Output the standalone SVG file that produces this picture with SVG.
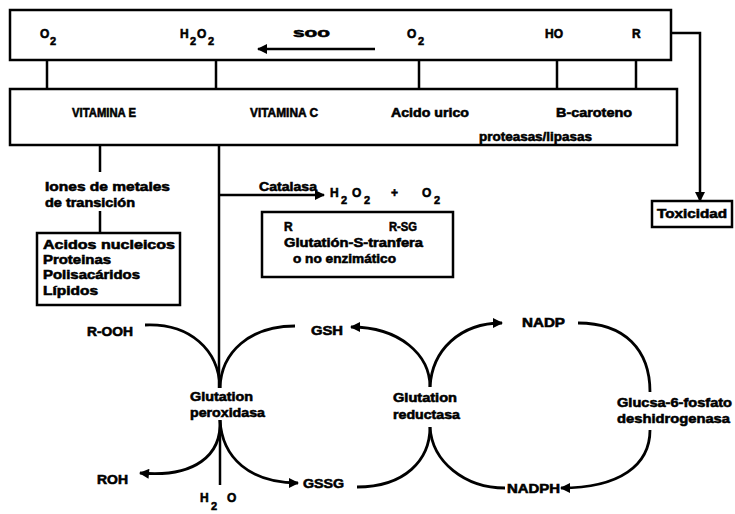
<svg xmlns="http://www.w3.org/2000/svg" width="735" height="514" viewBox="0 0 735 514">
<defs>
<marker id="ah" viewBox="0 0 10 10" refX="9" refY="5" markerWidth="12" markerHeight="10" markerUnits="userSpaceOnUse" orient="auto">
<path d="M0,0 L10,5 L0,10 z" fill="#000"/>
</marker>
</defs>
<style>
text{font-family:"Liberation Sans",Arial,sans-serif;font-weight:bold;font-size:12px;fill:#000;stroke:#000;stroke-width:0.55}
.sub{font-size:11px}
.box{fill:none;stroke:#000;stroke-width:2.5}
.ln{fill:none;stroke:#000;stroke-width:2.5}
.cv{fill:none;stroke:#000;stroke-width:2.8}
.arr{marker-end:url(#ah)}
</style>
<rect width="735" height="514" fill="#fff"/>

<g id="species-box">
<rect class="box" x="10" y="10" width="661" height="50"/>
<text x="40" y="38">O</text><text class="sub" x="50" y="45">2</text>
<text x="180" y="38">H</text><text class="sub" x="190" y="45">2</text>
<text x="197" y="38">O</text><text class="sub" x="208" y="45">2</text>
<text x="293" y="37" textLength="37" lengthAdjust="spacingAndGlyphs">soo</text>
<text x="407" y="38">O</text><text class="sub" x="418" y="45">2</text>
<text x="545" y="38">HO</text>
<text x="632" y="38">R</text>
</g>

<g id="antioxidants-box">
<rect class="box" x="10" y="89" width="667" height="56"/>
<text x="72" y="117" textLength="64" lengthAdjust="spacingAndGlyphs">VITAMINA E</text>
<text x="250" y="117" textLength="68" lengthAdjust="spacingAndGlyphs">VITAMINA C</text>
<text x="391" y="117" textLength="78" lengthAdjust="spacingAndGlyphs">Acido urico</text>
<text x="556" y="117" textLength="76" lengthAdjust="spacingAndGlyphs">B-caroteno</text>
<text x="479" y="141" textLength="113" lengthAdjust="spacingAndGlyphs">proteasas/lipasas</text>
</g>

<g id="iones">
<text x="45" y="191" textLength="125" lengthAdjust="spacingAndGlyphs">Iones de metales</text>
<text x="45" y="207" textLength="90" lengthAdjust="spacingAndGlyphs">de transición</text>
</g>

<g id="macromolecules-box">
<rect class="box" x="37" y="233" width="143" height="72"/>
<text x="43" y="249" textLength="132" lengthAdjust="spacingAndGlyphs">Acidos nucleicos</text>
<text x="43" y="264" textLength="68" lengthAdjust="spacingAndGlyphs">Proteinas</text>
<text x="43" y="279" textLength="97" lengthAdjust="spacingAndGlyphs">Polisacáridos</text>
<text x="43" y="295" textLength="55" lengthAdjust="spacingAndGlyphs">Lípidos</text>
</g>

<g id="catalasa">
<text x="259" y="191" textLength="58" lengthAdjust="spacingAndGlyphs">Catalasa</text>
<text x="330" y="197">H</text><text class="sub" x="341" y="204">2</text>
<text x="352" y="197">O</text><text class="sub" x="364" y="204">2</text>
<text x="391" y="197">+</text>
<text x="422" y="197">O</text><text class="sub" x="434" y="204">2</text>
</g>

<g id="gst-box">
<rect class="box" x="262" y="212" width="191" height="65"/>
<text x="284" y="231">R</text>
<text x="389" y="231" textLength="28" lengthAdjust="spacingAndGlyphs">R-SG</text>
<text x="284" y="247" textLength="139" lengthAdjust="spacingAndGlyphs">Glutatión-S-tranfera</text>
<text x="293" y="263" textLength="103" lengthAdjust="spacingAndGlyphs">o no enzimático</text>
</g>

<g id="toxicidad-box">
<rect class="box" x="652" y="201" width="80" height="26"/>
<text x="657" y="218" textLength="70" lengthAdjust="spacingAndGlyphs">Toxicidad</text>
</g>

<g id="gpx">
<text x="190" y="401" textLength="63" lengthAdjust="spacingAndGlyphs">Glutation</text>
<text x="190" y="417" textLength="75" lengthAdjust="spacingAndGlyphs">peroxidasa</text>
</g>
<g id="gr">
<text x="393" y="402" textLength="64" lengthAdjust="spacingAndGlyphs">Glutation</text>
<text x="393" y="419" textLength="67" lengthAdjust="spacingAndGlyphs">reductasa</text>
</g>
<g id="g6pd">
<text x="617" y="407" textLength="115" lengthAdjust="spacingAndGlyphs">Glucsa-6-fosfato</text>
<text x="617" y="423" textLength="113" lengthAdjust="spacingAndGlyphs">deshidrogenasa</text>
</g>
<g id="metabolites">
<text x="87" y="336" textLength="46" lengthAdjust="spacingAndGlyphs">R-OOH</text>
<text x="311" y="335" textLength="32" lengthAdjust="spacingAndGlyphs">GSH</text>
<text x="97" y="484" textLength="31" lengthAdjust="spacingAndGlyphs">ROH</text>
<text x="303" y="488" textLength="41" lengthAdjust="spacingAndGlyphs">GSSG</text>
<text x="522" y="327" textLength="43" lengthAdjust="spacingAndGlyphs">NADP</text>
<text x="507" y="493" textLength="53" lengthAdjust="spacingAndGlyphs">NADPH</text>
<text x="200" y="502">H</text><text class="sub" x="211" y="510">2</text>
<text x="227" y="502">O</text>
</g>

<g id="connectors">
<path class="ln arr" d="M375,49 L258,49"/>
<path class="ln" d="M47,60 V89 M216,60 V89 M419,60 V89 M557,60 V89 M636,60 V89"/>
<path class="ln arr" d="M671,33 H700 V201"/>
<path class="ln" d="M100,145 V172 M100,211 V233"/>
<path class="ln" d="M219,145 V388"/>
<path class="ln arr" d="M219,195 H324"/>
<path class="cv" d="M145,325 C190,323 219,350 220,388"/>
<path class="cv" d="M295,326 C250,326 221,352 220,388"/>
<path class="cv arr" d="M220,420 C222,455 195,478 140,473"/>
<path class="cv arr" d="M220,420 C222,458 250,483 298,483"/>
<path class="ln" d="M220,420 V485"/>
<path class="cv arr" d="M430,387 C430,355 400,327 351,327"/>
<path class="cv arr" d="M430,387 C432,350 460,323 502,323"/>
<path class="cv" d="M357,487 C405,487 430,460 430,427"/>
<path class="cv" d="M430,427 C432,462 465,488 505,488"/>
<path class="cv" d="M578,323 C625,323 650,350 650,392"/>
<path class="cv arr" d="M650,430 C650,465 620,488 561,488"/>
</g>
</svg>
